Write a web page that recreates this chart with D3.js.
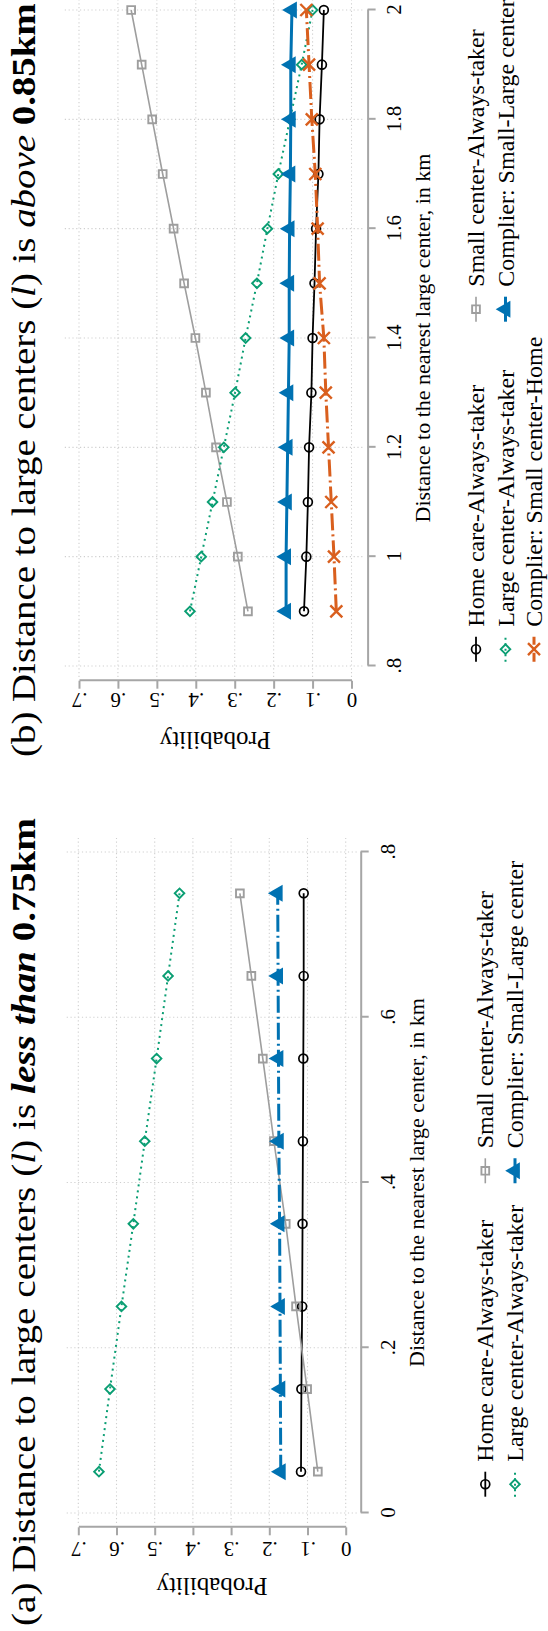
<!DOCTYPE html>
<html>
<head>
<meta charset="utf-8">
<script src="https://cdn.jsdelivr.net/npm/d3@7"></script>
<style>
  html, body { margin: 0; padding: 0; background: #fff; }
  svg { display: block; }
  text { font-family: "Liberation Serif", "Times New Roman", serif; fill: #000; }
</style>
</head>
<body>
<script>
// ---------------- DATA ----------------
// Panel (a): distance less than 0.75km
const kmA = [0.05, 0.15, 0.25, 0.35, 0.45, 0.55, 0.65, 0.75];
const homeA = [0.117, 0.116, 0.114, 0.113, 0.112, 0.111, 0.110, 0.110];
const smallA = [0.073, 0.101, 0.130, 0.157, 0.188, 0.217, 0.247, 0.277];
const largeA = [0.646, 0.617, 0.587, 0.556, 0.526, 0.495, 0.465, 0.435];
const compSLA = [0.170, 0.171, 0.172, 0.173, 0.175, 0.176, 0.177, 0.178];

// Panel (b): distance above 0.85km
const kmB = [0.9, 1.0, 1.1, 1.2, 1.3, 1.4, 1.5, 1.6, 1.7, 1.8, 1.9, 2.0];
const homeB = [0.122, 0.116, 0.112, 0.109, 0.103, 0.100, 0.095, 0.091, 0.085, 0.082, 0.076, 0.071];
const smallB = [0.266, 0.292, 0.320, 0.348, 0.374, 0.401, 0.430, 0.457, 0.485, 0.512, 0.539, 0.566];
const largeB = [0.415, 0.386, 0.357, 0.328, 0.299, 0.272, 0.243, 0.216, 0.188, 0.158, 0.128, 0.100];
const compSLB = [0.168, 0.168, 0.166, 0.164, 0.162, 0.160, 0.160, 0.159, 0.157, 0.156, 0.156, 0.153];
const compSHB = [0.039, 0.045, 0.052, 0.059, 0.066, 0.071, 0.082, 0.087, 0.093, 0.102, 0.109, 0.116];

// Ticks
const probTicks = [0, 0.1, 0.2, 0.3, 0.4, 0.5, 0.6, 0.7];
const probTickLabels = ["0", ".1", ".2", ".3", ".4", ".5", ".6", ".7"];
const kmTicksA = [0, 0.2, 0.4, 0.6, 0.8];
const kmTickLabelsA = ["0", ".2", ".4", ".6", ".8"];
const kmTicksB = [0.8, 1.0, 1.2, 1.4, 1.6, 1.8, 2.0];
const kmTickLabelsB = [".8", "1", "1.2", "1.4", "1.6", "1.8", "2"];

// Labels
const legendNames = {
  home: "Home care-Always-taker",
  small: "Small center-Always-taker",
  large: "Large center-Always-taker",
  compSL: "Complier: Small-Large center",
  compSH: "Complier: Small center-Home"
};
const xTitle = "Distance to the nearest large center, in km";
const yTitle = "Probability";

// ---------------- STYLES ----------------
const C = { black: "#000000", grey: "#9e9e9e", green: "#0a9e73", blue: "#0072b2", orange: "#d95f1e" };
const styles = {
  home:   { color: C.black,  width: 1.8, dash: null,         marker: "circle" },
  small:  { color: C.grey,   width: 1.6, dash: null,         marker: "square" },
  large:  { color: C.green,  width: 2.0, dash: "2,4",        marker: "diamond" },
  compSLa:{ color: C.blue,   width: 3.0, dash: "17,4,2,4",   marker: "triangle" },
  compSLb:{ color: C.blue,   width: 3.0, dash: null,         marker: "triangle" },
  compSH: { color: C.orange, width: 3.0, dash: "17,4,2,4",   marker: "times" }
};

// ---------------- SETUP ----------------
const PW = 548, PH = 1631;      // page
const W = PH, H = PW;           // landscape canvas
const svg = d3.select("body").append("svg").attr("width", PW).attr("height", PH);
svg.append("rect").attr("width", PW).attr("height", PH).attr("fill", "#fff");
const root = svg.append("g").attr("transform", `translate(0,${W}) rotate(-90)`);

function markerPath(type) {
  if (type === "circle") return d3.symbol(d3.symbolCircle, 62)();
  if (type === "square") return d3.symbol(d3.symbolSquare, 60)();
  if (type === "diamond") return d3.symbol(d3.symbolSquare, 46)();
  if (type === "triangle") return d3.symbol(d3.symbolTriangle, 125)();
  if (type === "times") { const r = 6; return `M${-r},${-r}L${r},${r}M${-r},${r}L${r},${-r}`; }
}
function drawMarker(g, type, st) {
  const p = g.append("path").attr("d", markerPath(type));
  if (type === "triangle") p.attr("fill", st.color).attr("stroke", "none");
  else if (type === "times") p.attr("fill", "none").attr("stroke", st.color).attr("stroke-width", 2.4);
  else p.attr("fill", "none").attr("stroke", st.color).attr("stroke-width", type === "circle" ? 1.7 : 1.9);
  if (type === "diamond") p.attr("transform", "rotate(45)");
  return p;
}

function drawPanel(cfg) {
  const g = root.append("g");
  const x = d3.scaleLinear().domain(cfg.xDomain).range(cfg.xRange);
  const y = d3.scaleLinear().domain([0, 0.7]).range(cfg.yRange);

  const clipId = "clip" + cfg.id;
  g.append("clipPath").attr("id", clipId).append("rect")
    .attr("x", cfg.plot[0]).attr("y", cfg.plot[2])
    .attr("width", cfg.plot[1] - cfg.plot[0]).attr("height", cfg.plot[3] - cfg.plot[2]);

  // gridlines
  const grid = g.append("g").attr("stroke", "#cfcfcf").attr("stroke-width", 1.1).attr("stroke-dasharray", "1.2,2.6");
  grid.selectAll("line.gy").data(probTicks).join("line")
    .attr("x1", cfg.plot[0]).attr("x2", cfg.plot[1])
    .attr("y1", d => y(d)).attr("y2", d => y(d));
  grid.selectAll("line.gx").data(cfg.xTicks).join("line")
    .attr("x1", d => x(d)).attr("x2", d => x(d))
    .attr("y1", cfg.plot[2]).attr("y2", cfg.plot[3]);

  // x axis
  const xa = g.append("g").attr("transform", `translate(0,${cfg.xAxisY})`)
    .call(d3.axisBottom(x).tickValues(cfg.xTicks).tickFormat((d, i) => cfg.xTickLabels[i]).tickSize(8).tickSizeOuter(0));
  xa.select(".domain").attr("stroke", "#a6a6a6").attr("stroke-width", 2);
  xa.selectAll(".tick line").attr("stroke", "#a6a6a6").attr("stroke-width", 2);
  xa.selectAll(".tick text").attr("y", cfg.xLabOff).attr("dy", 0)
    .attr("font-size", 21).attr("font-family", '"Liberation Serif", serif').attr("fill", "#000");

  // y axis
  const ya = g.append("g").attr("transform", `translate(${cfg.yAxisX},0)`)
    .call(d3.axisLeft(y).tickValues(probTicks).tickFormat((d, i) => probTickLabels[i]).tickSize(8).tickSizeOuter(0));
  ya.select(".domain").attr("stroke", "#a6a6a6").attr("stroke-width", 2);
  ya.selectAll(".tick line").attr("stroke", "#a6a6a6").attr("stroke-width", 2);
  ya.selectAll(".tick text").attr("x", 0).attr("dy", 0)
    .attr("transform", `translate(${-cfg.yLabOff},0) rotate(-90)`)
    .attr("text-anchor", "middle")
    .attr("font-size", 21).attr("font-family", '"Liberation Serif", serif').attr("fill", "#000");

  // axis titles
  g.append("text").attr("x", (cfg.xRange[0] + cfg.xRange[1]) / 2).attr("y", cfg.xTitleY)
    .attr("text-anchor", "middle").attr("font-size", 22).text(xTitle);
  g.append("text").attr("transform", `translate(${cfg.yTitleX},${(cfg.yRange[0] + cfg.yRange[1]) / 2}) rotate(-90)`)
    .attr("text-anchor", "middle").attr("font-size", 25).text(yTitle);

  // series
  const pg = g.append("g").attr("clip-path", `url(#${clipId})`);
  cfg.series.forEach(s => {
    const st = styles[s.style];
    const pts = cfg.km.map((k, i) => [x(k), y(s.values[i])]);
    const line = pg.append("path").attr("d", d3.line()(pts))
      .attr("fill", "none").attr("stroke", st.color).attr("stroke-width", st.width)
      .attr("stroke-linejoin", "round");
    if (st.dash) line.attr("stroke-dasharray", st.dash);
    pts.forEach(p => {
      const mg = pg.append("g").attr("transform", `translate(${p[0]},${p[1]})`);
      drawMarker(mg, st.marker, st);
    });
  });

  // legend
  cfg.legend.forEach(L => {
    const st = styles[L.style];
    const baseY = cfg.legRows[L.row];
    const colX = cfg.legCols[L.col];
    const my = baseY - 8;
    const kl = g.append("line");
    kl.attr("x1", colX - 35).attr("x2", colX - 10).attr("y1", my).attr("y2", my)
      .attr("stroke", st.color).attr("stroke-width", st.width);
    if (st.dash) kl.attr("stroke-dasharray", st.dash === "2,4" ? "2,3.5" : "9,3,2,3");
    const mg = g.append("g").attr("transform", `translate(${colX - 22.5},${my})`);
    drawMarker(mg, st.marker, st);
    g.append("text").attr("x", colX).attr("y", baseY).attr("font-size", 24).text(legendNames[L.key]);
  });

  // title (scaled horizontally to the reference span)
  const t = g.append("text").attr("x", 0).attr("y", 0).attr("font-size", 33)
    .style("white-space", "pre");
  cfg.title.forEach(part => {
    const ts = t.append("tspan").text(part.t);
    if (part.i) ts.attr("font-style", "italic");
    if (part.b) ts.attr("font-weight", "bold");
  });
  const natural = t.node().getComputedTextLength();
  const sx = natural > 0 ? cfg.titleLen / natural : 1;
  t.attr("transform", `translate(${cfg.titleX},35) scale(${sx},1)`);
}

drawPanel({
  id: "a",
  km: kmA, xDomain: [0, 0.8], xRange: [118, 779], yRange: [345.7, 78.3],
  xTicks: kmTicksA, xTickLabels: kmTickLabelsA,
  xAxisY: 360.7, yAxisX: 103.7, xLabOff: 34, yLabOff: 14.4,
  plot: [108, 793, 66.7, 357],
  xTitleY: 424, yTitleX: 53,
  series: [
    { style: "home", values: homeA }, { style: "small", values: smallA },
    { style: "large", values: largeA }, { style: "compSLa", values: compSLA }
  ],
  legRows: [493.3, 523], legCols: [169.3, 482.7],
  legend: [
    { key: "home", style: "home", row: 0, col: 0 },
    { key: "small", style: "small", row: 0, col: 1 },
    { key: "large", style: "large", row: 1, col: 0 },
    { key: "compSL", style: "compSLa", row: 1, col: 1 }
  ],
  titleX: 5, titleLen: 808,
  title: [{ t: "(a) Distance to large centers (" }, { t: "l", i: true }, { t: ") is " },
          { t: "less than", i: true, b: true }, { t: " 0.75km", b: true }]
});

drawPanel({
  id: "b",
  km: kmB, xDomain: [0.8, 2.0], xRange: [965, 1621], yRange: [351.5, 79],
  xTicks: kmTicksB, xTickLabels: kmTickLabelsB,
  xAxisY: 367.6, yAxisX: 950.3, xLabOff: 33.4, yLabOff: 12.3,
  plot: [954, 1645, 64.8, 364],
  xTitleY: 430, yTitleX: 899,
  series: [
    { style: "home", values: homeB }, { style: "small", values: smallB },
    { style: "large", values: largeB }, { style: "compSLb", values: compSLB },
    { style: "compSH", values: compSHB }
  ],
  legRows: [484, 513.5, 542], legCols: [1004.3, 1344.3],
  legend: [
    { key: "home", style: "home", row: 0, col: 0 },
    { key: "small", style: "small", row: 0, col: 1 },
    { key: "large", style: "large", row: 1, col: 0 },
    { key: "compSL", style: "compSLb", row: 1, col: 1 },
    { key: "compSH", style: "compSH", row: 2, col: 0 }
  ],
  titleX: 874, titleLen: 754,
  title: [{ t: "(b) Distance to large centers (" }, { t: "l", i: true }, { t: ") is " },
          { t: "above", i: true }, { t: " 0.85km", b: true }]
});
</script>
</body>
</html>
